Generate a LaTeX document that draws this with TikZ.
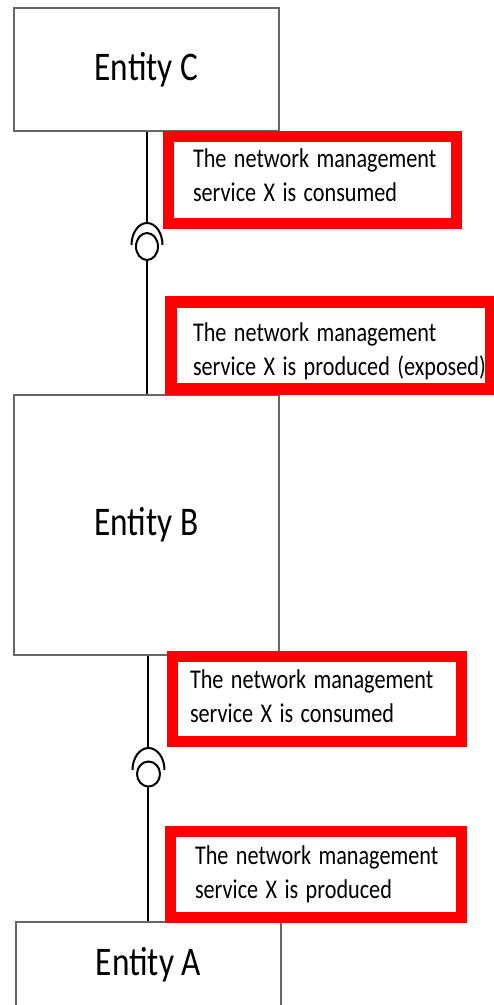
\documentclass[tikz,border=0pt]{standalone}
\usepackage{graphicx}
\usepackage{fontspec}
\setmainfont{Carlito}
\newcommand{\tall}[1]{\scalebox{1}[1.22]{#1}}

\begin{document}
\begin{tikzpicture}[x=1pt,y=-1pt,
		entity/.style={draw=black!60,line width=1.5pt,fill=white,minimum width=265pt,font=\fontsize{33.3}{40}\selectfont},
		note/.style={draw=red,line width=11pt,align=left,minimum height=87pt,inner ysep=0pt,font=\fontsize{22.2}{34}\selectfont},
		wire/.style={line width=2pt}]
	\useasboundingbox (0,0) rectangle (494,1005);
	\node [entity,minimum height=123pt] (C) at (146.5,69.5) {\tall{Entity C}};
	\node [entity,minimum height=260pt] (B) at (146.5,525) {\tall{Entity B}};
	\node [entity,minimum height=86pt] (A) at (148.5,965) {\tall{Entity A}};
	\node [note,inner xsep=24.5pt,text width=239pt] (n1) at (312.5,180) {\tall{The network management}\\\tall{service X is consumed}\rule[-10pt]{0pt}{1pt}};
	\node [note,line width=12pt,inner xsep=22pt,text width=276pt] (n2) at (331,345) {\rule{0pt}{32pt}\tall{The network management}\\\tall{service X is produced (exposed)}};
	\node [note,minimum height=85pt,inner xsep=17.5pt,text width=254pt] (n3) at (317,699) {\tall{The network management}\\\tall{service X is consumed}\rule[-5pt]{0pt}{1pt}};
	\node [note,minimum height=86pt,inner xsep=24.5pt,text width=242pt] (n4) at (316,874.5) {\tall{The network management}\\\tall{service X is produced}};
	\coordinate (s1) at (147,223);
	\coordinate (b1) at (147,260);
	\coordinate (s2) at (148,748);
	\coordinate (b2) at (148,786.5);
	\draw [wire] (C.south -| s1) -- (s1);
	\draw [wire] (147,245) ++(180:15.5 and 22) arc [start angle=180,end angle=360,x radius=15.5,y radius=22];
	\draw [wire] (147,246.5) ellipse [x radius=11,y radius=13.5];
	\draw [wire] (b1) -- (B.north -| b1);
	\draw [wire] (B.south -| s2) -- (s2);
	\draw [wire] (148.5,770) ++(180:16 and 22) arc [start angle=180,end angle=360,x radius=16,y radius=22];
	\draw [wire] (148.5,774) ellipse [x radius=11.5,y radius=12.5];
	\draw [wire] (b2) -- (A.north -| b2);
\end{tikzpicture}
\end{document}
